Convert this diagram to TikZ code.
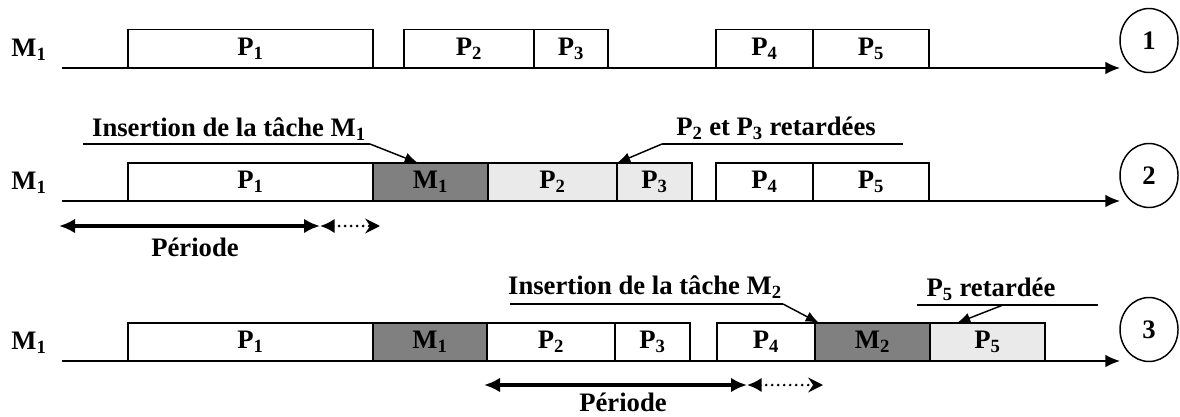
\documentclass[tikz,border=0pt]{standalone}
\usepackage{fontspec}
\setmainfont{Liberation Serif}
\usetikzlibrary{arrows.meta, shapes.geometric}

\definecolor{darkbox}{HTML}{808080}
\definecolor{lightbox}{HTML}{EAEAEA}

\tikzset{
  task/.style={draw, line width=1.1pt, inner sep=0pt, minimum height=28.5pt},
  num/.style={draw, ellipse, line width=1.1pt, inner sep=0pt, minimum width=43.5pt, minimum height=48pt},
  axis/.style={line width=1.1pt, -{Latex[length=11pt, width=9.5pt]}},
  note/.style={line width=1.1pt, -{Latex[length=10pt, width=8pt]}},
  rule/.style={line width=1.1pt},
  period/.style={line width=2.4pt, {Latex[length=12pt, width=11pt]}-{Latex[length=12pt, width=11pt]}},
  dots/.style={line width=2.2pt, line cap=round, dash pattern=on 0pt off 4.5pt, {Latex[length=11pt, width=11pt]}-{Stealth[length=11pt, width=11pt]}}
}

\begin{document}
\begin{tikzpicture}[x=0.75pt, y=-0.75pt, font=\fontsize{20}{24}\selectfont\bfseries]
\useasboundingbox (0,0) rectangle (1180,417);

% Row 1: initial schedule
\node (lab1) at (29,50) {M\textsubscript{1}};
\coordinate (s1) at (62,68);
\coordinate (e1) at (1120,68);
\draw [axis] (s1) -- (e1);
\foreach \nm/\xa/\xb/\lab/\col in {
  p1/128/373/{P\textsubscript{1}}/white,
  p2/404/534/{P\textsubscript{2}}/white,
  p3/534/608/{P\textsubscript{3}}/white,
  p4/716/813/{P\textsubscript{4}}/white,
  p5/813/929/{P\textsubscript{5}}/white} {
  \node [task, fill=\col, minimum width={(\xb-\xa)*0.75pt}] (a\nm) at ({(\xa+\xb)/2},48.5) {\lab};
}
\node [num] (n1) at (1149,40.5) {1};

% Row 2: M1 inserted, P2 and P3 delayed
\node (lab2) at (29,183) {M\textsubscript{1}};
\coordinate (s2) at (62,201);
\coordinate (e2) at (1120,201);
\draw [axis] (s2) -- (e2);
\foreach \nm/\xa/\xb/\lab/\col in {
  p1/128/373/{P\textsubscript{1}}/white,
  m1/373/488/{M\textsubscript{1}}/darkbox,
  p2/488/617/{P\textsubscript{2}}/lightbox,
  p3/617/692/{P\textsubscript{3}}/lightbox,
  p4/716/813/{P\textsubscript{4}}/white,
  p5/813/929/{P\textsubscript{5}}/white} {
  \node [task, fill=\col, minimum width={(\xb-\xa)*0.75pt}] (b\nm) at ({(\xa+\xb)/2},182) {\lab};
}
\node [num] (n2) at (1149,175.5) {2};

% Annotations of row 2
\node (ins1) at (229,129) {Insertion de la tâche M\textsubscript{1}};
\coordinate (u1a) at (83,144);
\coordinate (u1b) at (370,144);
\coordinate (t1) at (418,163);
\draw [rule] (u1a) -- (u1b);
\draw [note] (u1b) -- (t1);
\node (ret1) at (776,128) {P\textsubscript{2} et P\textsubscript{3} retardées};
\coordinate (u2a) at (662,144);
\coordinate (u2b) at (903,144);
\coordinate (t2) at (617,163);
\draw [rule] (u2a) -- (u2b);
\draw [note] (u2a) -- (t2);

% Period of row 2
\coordinate (pa1) at (59,226);
\coordinate (pb1) at (320,226);
\coordinate (pc1) at (380,226);
\draw [period] (pa1) -- (pb1);
\draw [dots] (pb1) -- (pc1);
\node (per1) at (195,247) {Période};

% Row 3: M2 inserted, P5 delayed
\node (lab3) at (29,343) {M\textsubscript{1}};
\coordinate (s3) at (62,361);
\coordinate (e3) at (1120,361);
\draw [axis] (s3) -- (e3);
\foreach \nm/\xa/\xb/\lab/\col in {
  p1/128/373/{P\textsubscript{1}}/white,
  m1/373/487/{M\textsubscript{1}}/darkbox,
  p2/487/615/{P\textsubscript{2}}/white,
  p3/615/690/{P\textsubscript{3}}/white,
  p4/717/815/{P\textsubscript{4}}/white,
  m2/815/930/{M\textsubscript{2}}/darkbox,
  p5/930/1045/{P\textsubscript{5}}/lightbox} {
  \node [task, fill=\col, minimum width={(\xb-\xa)*0.75pt}] (c\nm) at ({(\xa+\xb)/2},342) {\lab};
}
\node [num] (n3) at (1149,329.5) {3};

% Annotations of row 3
\node (ins2) at (645,287) {Insertion de la tâche M\textsubscript{2}};
\coordinate (u3a) at (510,304);
\coordinate (u3b) at (783,304);
\coordinate (t3) at (819,323);
\draw [rule] (u3a) -- (u3b);
\draw [note] (u3b) -- (t3);
\node (ret2) at (991,289) {P\textsubscript{5} retardée};
\coordinate (u4a) at (917,305);
\coordinate (u4b) at (1098,305);
\coordinate (u4c) at (1003,305);
\coordinate (t4) at (957,323);
\draw [rule] (u4a) -- (u4b);
\draw [note] (u4c) -- (t4);

% Period of row 3
\coordinate (pa2) at (484,385);
\coordinate (pb2) at (747,385);
\coordinate (pc2) at (823,385);
\draw [period] (pa2) -- (pb2);
\draw [dots] (pb2) -- (pc2);
\node (per2) at (623,402) {Période};

\end{tikzpicture}
\end{document}
